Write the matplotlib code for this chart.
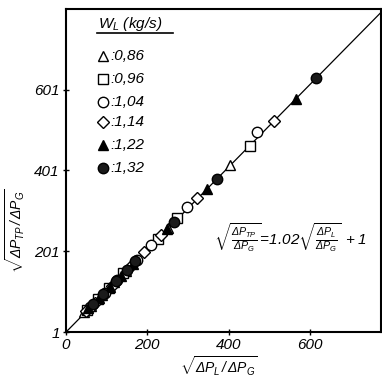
import numpy as np
import matplotlib
matplotlib.use("Agg")
import matplotlib.pyplot as plt

plt.rcParams['font.family'] = ['Liberation Sans', 'DejaVu Sans']
plt.rcParams['font.style'] = 'italic'
plt.rcParams['mathtext.fontset'] = 'custom'
plt.rcParams['mathtext.rm'] = 'Liberation Sans:italic'
plt.rcParams['mathtext.it'] = 'Liberation Sans:italic'
plt.rcParams['mathtext.sf'] = 'Liberation Sans:italic'

# data, one pair of arrays per liquid flow rate W_L (kg/s)
tri_x = [45, 62, 88, 118, 148, 250, 404]
tri_y = [50, 66, 93, 124, 152, 258, 413]
sq_x = [52, 78, 105, 140, 226, 272, 452]
sq_y = [55, 82, 110, 146, 232, 282, 462]
circ_x = [58, 95, 125, 175, 210, 298, 470]
circ_y = [62, 98, 130, 180, 217, 310, 495]
dia_x = [48, 70, 112, 160, 192, 234, 322, 512]
dia_y = [52, 73, 116, 165, 200, 241, 332, 523]
ftri_x = [55, 82, 108, 135, 165, 248, 348, 565]
ftri_y = [60, 86, 112, 139, 170, 255, 356, 578]
fcirc_x = [66, 92, 123, 150, 170, 265, 372, 615]
fcirc_y = [70, 96, 128, 155, 176, 274, 380, 630]

flow_labels = [':0,86', ':0,96', ':1,04', ':1,14', ':1,22', ':1,32']
x_ticks = [0, 200, 400, 600]
y_ticks = [1, 201, 401, 601]

# correlation: sqrt(dPtp/dPg) = 1.02 sqrt(dPl/dPg) + 1
slope = 1.02
icpt = 1.0

fig = plt.figure(figsize=(3.82, 3.79), dpi=100)
ax = fig.add_axes([0.173, 0.124, 0.824, 0.852])

lx = np.array([0, 775])
ax.plot(lx, slope * lx + icpt, color='black', lw=0.9, zorder=1)

styles = [
    (tri_x, tri_y, '^', 'white', 7.5),
    (sq_x, sq_y, 's', 'white', 6.5),
    (circ_x, circ_y, 'o', 'white', 7.5),
    (dia_x, dia_y, 'D', 'white', 6.0),
    (ftri_x, ftri_y, '^', 'black', 7),
    (fcirc_x, fcirc_y, 'o', '#1a1a1a', 7.5),
]
for xs, ys, m, fc, ms in styles:
    ax.plot(xs, ys, linestyle='none', marker=m, ms=ms, mfc=fc,
            mec='black', mew=1.0, zorder=3)

ax.set_xlim(0, 775)
ax.set_ylim(1, 800)
ax.set_xticks(x_ticks)
ax.set_yticks(y_ticks)
ax.tick_params(direction='inout', length=5, width=1, labelsize=11, pad=2)
for s in ax.spines.values():
    s.set_linewidth(1.5)

ax.set_xlabel(r'$\sqrt{\Delta P_L\,/\,\Delta P_G}$', fontsize=10)
ax.xaxis.set_label_coords(0.484, -0.068)
ax.set_ylabel(r'$\sqrt{\Delta P_{TP}\,/\,\Delta P_G}$', fontsize=10)
ax.yaxis.set_label_coords(-0.125, 0.315)

# legend drawn by hand to follow the uneven spacing of the original
ax.text(0.10, 0.955, r'$W_L\ (kg/s)$', transform=ax.transAxes,
        fontsize=11, va='center', ha='left')
ax.plot([0.098, 0.34], [0.925, 0.925], transform=ax.transAxes,
        color='black', lw=1.2)
leg_y = [0.856, 0.785, 0.711, 0.650, 0.579, 0.508]
for (xs, ys, m, fc, ms), lab, yy in zip(styles, flow_labels, leg_y):
    ax.plot([0.118], [yy], transform=ax.transAxes, linestyle='none',
            marker=m, ms=ms, mfc=fc, mec='black', mew=1.0)
    ax.text(0.14, yy, lab, transform=ax.transAxes, fontsize=11,
            va='center', ha='left')

ax.text(0.47, 0.293,
        r'$\sqrt{\frac{\Delta P_{TP}}{\Delta P_G}}\!=\!1.02\sqrt{\frac{\Delta P_L}{\Delta P_G}}\;+1$',
        transform=ax.transAxes, fontsize=11, va='center', ha='left')

fig.savefig('out.png', dpi=100)
